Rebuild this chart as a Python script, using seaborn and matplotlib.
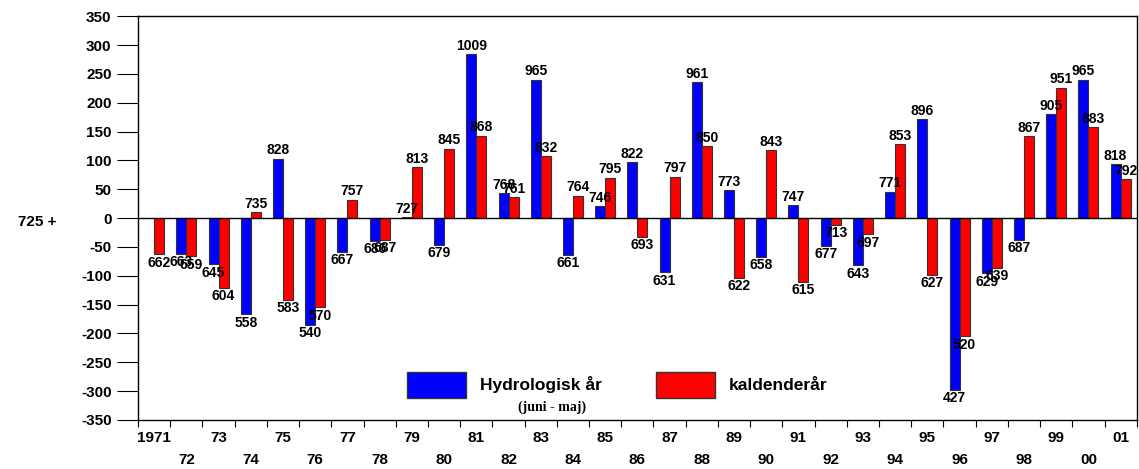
import numpy as np
import pandas as pd
import seaborn as sns
import matplotlib
matplotlib.use("Agg")
from matplotlib import pyplot as plt
from matplotlib.patches import Patch

# nedbør (mm), afvigelse fra 725
base = 725
years = list(range(1971, 2002))
hydro = [np.nan, 663, 645, 558, 828, 540, 667, 686, 727, 679,
         1009, 768, 965, 661, 746, 822, 631, 961, 773, 658,
         747, 677, 643, 771, 896, 427, 629, 687, 905, 965, 818]
kalender = [662, 659, 604, 735, 583, 570, 757, 687, 813, 845,
            868, 761, 832, 764, 795, 693, 797, 850, 622, 843,
            615, 713, 697, 853, 627, 520, 639, 867, 951, 883, 792]
tick_labels = [("1971" if y == 1971 else str(y)[2:]) if (y - 1971) % 2 == 0
               else "\n" + str(y)[2:] for y in years]

sns.set_style("white")
plt.rcParams['font.family'] = ['Liberation Sans', 'DejaVu Sans']
plt.rcParams['font.weight'] = 'bold'
plt.rcParams['text.color'] = 'black'
plt.rcParams['xtick.color'] = 'black'
plt.rcParams['ytick.color'] = 'black'
plt.rcParams['axes.labelcolor'] = 'black'
plt.rcParams['axes.unicode_minus'] = False

df = pd.DataFrame({
    'aar': [str(y) for y in years] * 2,
    'mm': [v - base for v in hydro] + [v - base for v in kalender],
    'type': ['Hydrologisk år'] * len(years) + ['kaldenderår'] * len(years),
})

fig = plt.figure(figsize=(11.39, 4.69), dpi=100)
ax = fig.add_axes([0.1212, 0.1045, 0.8768, 0.861])
sns.barplot(data=df, x='aar', y='mm', hue='type', order=[str(y) for y in years],
            palette=['#0000ff', '#ff0000'], saturation=1, width=0.62,
            edgecolor='#333333', linewidth=0.8, errorbar=None, ax=ax, legend=False)

for c in ax.containers:
    ax.bar_label(c, fmt=lambda v: f"{v + base:.0f}", fontsize=10,
                 fontweight='bold', padding=1, color='black')

ax.axhline(0, color='black', lw=1)
ax.set_ylim(-350, 350)
ax.set_xlim(-0.5, len(years) - 0.5)
ax.set_yticks(np.arange(-350, 351, 50))
ax.tick_params(axis='y', direction='out', length=15, width=0.8, labelsize=11,
               pad=4, left=True)
for t in ax.get_yticklabels():
    t.set_fontweight('bold')

# tick marks between groups, labels centred on groups
ax.set_xticks(np.arange(-0.5, len(years), 1.0))
ax.set_xticklabels([])
ax.set_xticks(np.arange(len(years)), minor=True)
ax.set_xticklabels(tick_labels, minor=True, fontsize=11, fontweight='bold',
                   va='top', linespacing=1.75)
ax.tick_params(axis='x', which='major', direction='out', length=5, width=0.8,
               bottom=True)
ax.tick_params(axis='x', which='minor', length=0, pad=8)

ax.set_xlabel('')
ax.set_ylabel('725 +', rotation=0, fontsize=11, fontweight='bold',
              ha='center', va='center')
ax.yaxis.set_label_coords(-0.101, 0.49)

for s in ax.spines.values():
    s.set_color('black')
    s.set_linewidth(1)

handles = [Patch(facecolor='#0000ff', edgecolor='#333333', label='Hydrologisk år'),
           Patch(facecolor='#ff0000', edgecolor='#333333', label='kaldenderår')]
ax.legend(handles=handles, ncol=2, loc='center', bbox_to_anchor=(0.48, 0.087),
          frameon=False, handlelength=3.4, handleheight=1.95, columnspacing=3.1,
          handletextpad=0.8, prop={'weight': 'bold', 'size': 12.5})
ax.text(0.415, 0.032, '(juni - maj)', transform=ax.transAxes, ha='center',
        va='center', fontsize=10, fontweight='bold', family='Liberation Serif')

fig.savefig('out.png', dpi=100)
